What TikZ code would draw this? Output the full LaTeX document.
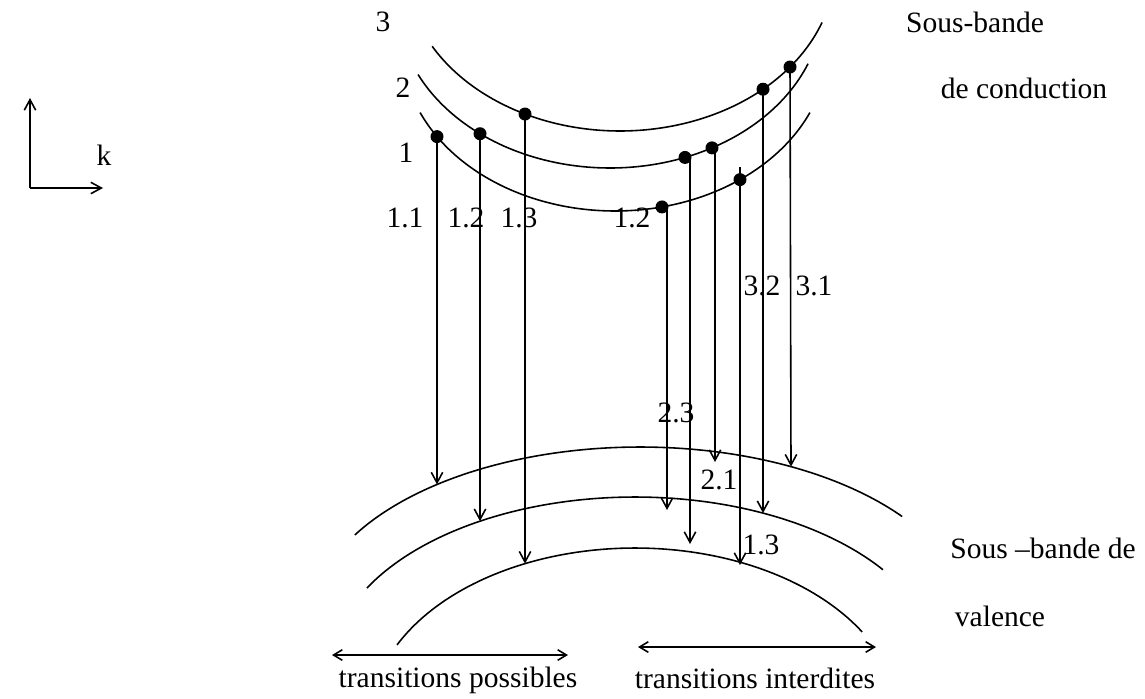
\documentclass[tikz,border=0pt]{standalone}
\usepackage{fontspec}
\setmainfont{Liberation Serif}
\usetikzlibrary{arrows.meta}
\begin{document}
\begin{tikzpicture}[x=0.02cm,y=-0.02cm,
  line width=0.9pt,
  band/.style={line width=0.9pt},
  dot/.style={circle,fill=black,inner sep=0pt,minimum size=0.26cm},
  trans/.style={-{Straight Barb[length=6pt,width=6.5pt]}},
  lbl/.style={font=\fontsize{16.8pt}{19pt}\selectfont,inner sep=0pt},
  both/.style={{Straight Barb[length=5pt,width=6pt]}-{Straight Barb[length=5pt,width=6pt]}}]
\useasboundingbox (0,0) rectangle (1145,698);
% axes
\coordinate (o) at (30,188);
\coordinate (ay) at (30,98);
\coordinate (ax) at (103,188);
\draw[trans] (o) -- (ay);
\draw[trans] (o) -- (ax);
\node[lbl] (k) at (104,155) {k};
% conduction sub-bands (elliptic arcs)
\draw[band] plot[domain=156.2:23.8,samples=90,variable=\t] ({615+213*cos(\t)},{46+165*sin(\t)});
\draw[band] plot[domain=154.3:21.6,samples=90,variable=\t] ({610+213*cos(\t)},{3+165*sin(\t)});
\draw[band] plot[domain=150.9:20.0,samples=90,variable=\t] ({620+215*cos(\t)},{-34+165*sin(\t)});
% valence sub-bands
\draw[band] plot[domain=210.2:322.6,samples=90,variable=\t] ({640+330*cos(\t)},{624+177*sin(\t)});
\draw[band] plot[domain=208.5:324.4,samples=90,variable=\t] ({635+305*cos(\t)},{671+174*sin(\t)});
\draw[band] plot[domain=206.1:329.0,samples=90,variable=\t] ({635+265*cos(\t)},{721+173*sin(\t)});
% band indices
\node[lbl] (n3) at (383,22) {3};
\node[lbl] (n2) at (403,88) {2};
\node[lbl] (n1) at (406,153) {1};
% electrons
\node[dot] (a1) at ({437},{46+165*sqrt(1-((437-615)/213)^2)}) {};
\node[dot] (a2) at ({480},{3+165*sqrt(1-((480-610)/213)^2)}) {};
\node[dot] (a3) at ({525},{-34+165*sqrt(1-((525-620)/215)^2)}) {};
\node[dot] (b1) at ({662},{46+165*sqrt(1-((662-615)/213)^2)}) {};
\node[dot] (b2) at ({685},{3+165*sqrt(1-((685-610)/213)^2)}) {};
\node[dot] (b3) at ({712},{3+165*sqrt(1-((712-610)/213)^2)}) {};
\node[dot] (b4) at ({740},{46+165*sqrt(1-((740-615)/213)^2)}) {};
\node[dot] (b5) at ({763},{-34+165*sqrt(1-((763-620)/215)^2)}) {};
\node[dot] (b6) at ({790},{-34+165*sqrt(1-((790-620)/215)^2)}) {};
% arrow starts (lines slightly right of some dots) and ends
\coordinate (f1s) at ({667},{46+165*sqrt(1-((667-615)/213)^2)});
\coordinate (f2s) at ({690},{3+165*sqrt(1-((690-610)/213)^2)});
\coordinate (f3s) at ({715},{3+165*sqrt(1-((715-610)/213)^2)});
\coordinate (f4s) at (740,167);
\coordinate (e1) at ({437},{624-177*sqrt(1-((437-640)/330)^2)});
\coordinate (e2) at ({480},{671-174*sqrt(1-((480-635)/305)^2)});
\coordinate (e3) at ({525},{721-173*sqrt(1-((525-635)/265)^2)});
\coordinate (f1) at (667,510);
\coordinate (f2) at (690,544);
\coordinate (f3) at (715,462);
\coordinate (f4) at (740,565);
\coordinate (f5) at ({763},{671-174*sqrt(1-((763-635)/305)^2)});
\coordinate (f6) at ({791},{624-177*sqrt(1-((791-640)/330)^2)});
\draw[trans] (a1.center) -- (e1);
\draw[trans] (a2.center) -- (e2);
\draw[trans] (a3.center) -- (e3);
\draw[trans] (f1s) -- (f1);
\draw[trans] (f2s) -- (f2);
\draw[trans] (f3s) -- (f3);
\draw[trans] (f4s) -- (f4);
\draw[trans] (b5.center) -- (f5);
\draw[trans] (b6.center) -- (f6);
% transition labels
\node[lbl] (t11) at (405,218) {1.1};
\node[lbl] (t12) at (466,218) {1.2};
\node[lbl] (t13) at (519,218) {1.3};
\node[lbl] (t22) at (632,218) {1.2};
\node[lbl] (t32) at (762,286) {3.2};
\node[lbl] (t31) at (814,286) {3.1};
\node[lbl] (t23) at (676,413) {2.3};
\node[lbl] (t21) at (719,480) {2.1};
\node[lbl] (t13b) at (761,545) {1.3};
% band names
\node[lbl] (sc1) at (975,22) {Sous-bande};
\node[lbl] (sc2) at (1024,88) {de conduction};
\node[lbl] (sv1) at (1043,548) {Sous –bande de};
\node[lbl] (sv2) at (1000,616) {valence};
% transition ranges
\coordinate (p1) at (332,655);
\coordinate (p2) at (568,655);
\coordinate (q1) at (638,647);
\coordinate (q2) at (876,647);
\draw[both] (p1) -- (p2);
\draw[both] (q1) -- (q2);
\node[lbl] (tp) at (458,680) {transitions possibles};
\node[lbl] (ti) at (755,678) {transitions interdites};
\end{tikzpicture}
\end{document}
